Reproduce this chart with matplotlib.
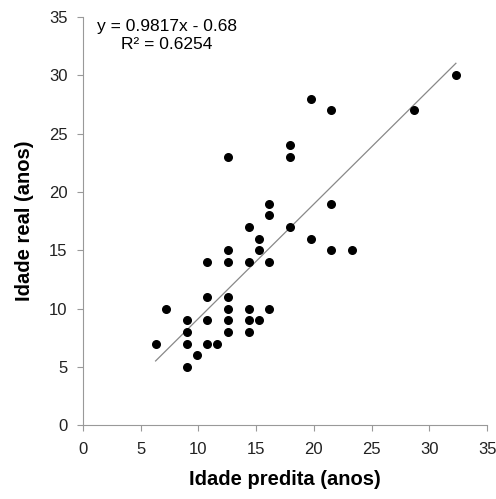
import numpy as np
import matplotlib
matplotlib.use('Agg')
import matplotlib.pyplot as plt

plt.rcParams['font.family'] = ['Liberation Sans', 'DejaVu Sans']

# dados
idade_predita = [6.3, 7.2, 9.0, 9.0, 9.0, 9.0, 9.85, 10.75, 10.75, 10.75, 10.75, 11.6,
                 12.55, 12.55, 12.55, 12.55, 12.55, 12.55, 12.55,
                 14.35, 14.35, 14.35, 14.35, 14.35, 15.25, 15.25, 15.25,
                 16.15, 16.15, 16.15, 16.15, 17.9, 17.9, 17.9, 19.74, 19.74,
                 21.5, 21.5, 21.5, 23.3, 28.7, 32.3]
idade_real = [7, 10, 9, 8, 7, 5, 6, 7, 9, 11, 14, 7,
              8, 9, 10, 11, 14, 15, 23,
              8, 9, 10, 14, 17, 9, 15, 16,
              10, 14, 18, 19, 17, 23, 24, 16, 28,
              15, 19, 27, 15, 27, 30]
coef = [0.9817, -0.68]
r2 = 0.6254
ticks = [0, 5, 10, 15, 20, 25, 30, 35]

fig = plt.figure(figsize=(4.96, 4.99), dpi=100)
ax = fig.add_axes([0.167, 0.148, 0.815, 0.818])

ax.scatter(idade_predita, idade_real, s=30, color='black', zorder=3)

xl = np.array([min(idade_predita), max(idade_predita)])
ax.plot(xl, coef[0] * xl + coef[1], color='#888888', lw=0.9)

ax.set_xlim(0, 35)
ax.set_ylim(0, 35)
ax.set_xticks(ticks)
ax.set_yticks(ticks)
ax.tick_params(direction='out', length=4.3, color='#999999', labelsize=12, labelcolor='#222222')
ax.tick_params(axis='x', pad=7.5)
ax.tick_params(axis='y', pad=6.8)
for s in ['top', 'right']:
    ax.spines[s].set_visible(False)
for s in ['left', 'bottom']:
    ax.spines[s].set_color('#999999')

ax.set_xlabel('Idade predita (anos)', fontsize=14.5, fontweight='bold', labelpad=10)
ax.set_ylabel('Idade real (anos)', fontsize=14.5, fontweight='bold', labelpad=10.5)

ax.text(1.2, 34.8, 'y = 0.9817x - 0.68\nR² = %.4f' % r2, fontsize=12.5, ha='left', va='top',
        multialignment='center', linespacing=1.2)

plt.savefig('out.png', dpi=100)
